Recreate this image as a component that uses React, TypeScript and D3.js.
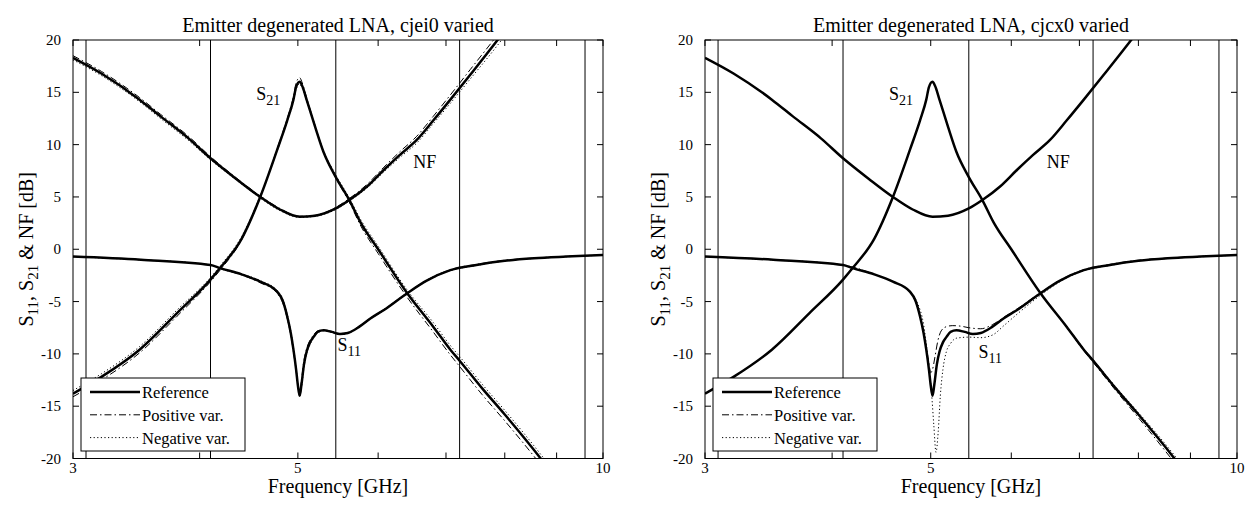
import React from 'react';
import * as d3 from 'd3';

// frequency axis
const X_TICKS = [3, 4, 5, 6, 7, 8, 9, 10];
const X_LABELS = [3, 5, 10];
const Y_TICKS = [-20, -15, -10, -5, 0, 5, 10, 15, 20];
// the thin vertical marker lines [GHz]
const BAND_F = [3.09, 4.1, 5.45, 7.22, 9.6];

// NF, reference design (shared by both plots)
const NF_F = [3.0, 3.2, 3.49, 3.66, 3.9, 4.1, 4.35, 4.59, 4.8, 5.02, 5.2, 5.45, 5.62, 5.85, 6.08, 6.3, 6.55, 6.8, 7.07, 7.4, 7.87, 8.2];
const NF_REF = [18.3, 16.8, 14.3, 12.7, 10.6, 8.7, 6.7, 5.0, 3.8, 3.1, 3.2, 3.9, 4.7, 6.0, 7.6, 9.0, 10.45, 12.3, 14.3, 16.7, 20.0, 22.3];
const NF_POS_L = [18.5, 17.0, 14.5, 12.9, 10.8, 8.85, 6.8, 5.1, 3.9, 3.15, 3.25, 4.0, 4.85, 6.2, 7.85, 9.3, 10.8, 12.7, 14.75, 17.2, 20.5, 22.8];
const NF_NEG_L = [18.1, 16.6, 14.1, 12.5, 10.4, 8.55, 6.6, 4.9, 3.7, 3.05, 3.15, 3.8, 4.6, 5.85, 7.4, 8.75, 10.15, 12.0, 13.95, 16.3, 19.5, 21.8];

// S21
const S21_F = [3.0, 3.2, 3.49, 3.8, 4.1, 4.19, 4.4, 4.59, 4.77, 4.88, 4.95, 4.98, 5.02, 5.05, 5.1, 5.2, 5.3, 5.45, 5.62, 5.77, 6.0, 6.41, 6.8, 7.07, 7.22, 7.6, 8.0, 8.68, 9.0];
const S21_REF = [-13.8, -12.2, -9.6, -6.1, -2.9, -1.8, 1.0, 5.0, 9.5, 12.3, 14.3, 15.5, 16.0, 15.6, 14.3, 11.7, 9.3, 6.9, 4.7, 2.5, 0.0, -4.2, -7.4, -9.6, -10.65, -13.3, -15.8, -20.0, -22.0];
const S21_POS_L = [-14.1, -12.5, -9.9, -6.4, -3.1, -2.0, 0.9, 5.0, 9.6, 12.5, 14.6, 15.9, 16.4, 15.9, 14.5, 11.8, 9.3, 6.8, 4.5, 2.2, -0.4, -4.6, -7.9, -10.1, -11.2, -13.9, -16.4, -20.6, -22.6];
const S21_NEG_L = [-13.5, -11.9, -9.3, -5.8, -2.7, -1.6, 1.2, 5.1, 9.4, 12.2, 14.1, 15.3, 15.8, 15.4, 14.2, 11.7, 9.4, 7.1, 4.9, 2.8, 0.3, -3.9, -7.0, -9.2, -10.25, -12.9, -15.4, -19.6, -21.6];
const S21_POS_R = [-13.8, -12.2, -9.6, -6.1, -2.9, -1.8, 1.0, 5.0, 9.5, 12.3, 14.3, 15.5, 16.0, 15.6, 14.3, 11.7, 9.3, 6.9, 4.7, 2.5, 0.0, -4.2, -7.45, -9.7, -10.8, -13.5, -16.1, -20.4, -22.4];
const S21_NEG_R = [-13.8, -12.2, -9.6, -6.1, -2.9, -1.8, 1.0, 5.0, 9.5, 12.3, 14.3, 15.5, 16.0, 15.6, 14.3, 11.7, 9.3, 6.9, 4.7, 2.5, 0.0, -4.2, -7.35, -9.5, -10.55, -13.15, -15.6, -19.7, -21.7];

// S11
const S11_F = [3.0, 3.5, 4.1, 4.19, 4.4, 4.59, 4.77, 4.83, 4.88, 4.92, 4.95, 4.98, 5.0, 5.02, 5.04, 5.07, 5.1, 5.14, 5.18, 5.23, 5.3, 5.4, 5.5, 5.6, 5.75, 5.9, 6.08, 6.41, 6.7, 7.07, 7.5, 8.0, 8.55, 9.2, 10.0];
const S11_REF = [-0.7, -1.0, -1.5, -1.8, -2.4, -3.1, -4.05, -4.9, -6.4, -8.0, -9.6, -11.5, -13.0, -14.0, -13.0, -11.0, -9.8, -8.9, -8.4, -7.9, -7.75, -7.9, -8.1, -8.0, -7.4, -6.6, -5.8, -4.2, -3.0, -2.0, -1.5, -1.1, -0.86, -0.7, -0.55];
const S11_POS_L = [-0.7, -1.0, -1.5, -1.85, -2.45, -3.2, -4.2, -5.1, -6.6, -8.2, -9.8, -11.6, -13.1, -13.8, -12.6, -10.6, -9.5, -8.7, -8.2, -7.8, -7.7, -7.85, -8.05, -7.95, -7.35, -6.55, -5.75, -4.15, -2.95, -1.95, -1.45, -1.05, -0.84, -0.68, -0.55];
const S11_NEG_L = [-0.72, -1.02, -1.5, -1.78, -2.35, -3.0, -3.95, -4.75, -6.2, -7.8, -9.4, -11.3, -12.9, -14.1, -13.3, -11.3, -10.0, -9.1, -8.5, -8.0, -7.8, -7.95, -8.15, -8.05, -7.45, -6.65, -5.85, -4.25, -3.05, -2.05, -1.55, -1.12, -0.88, -0.72, -0.56];

const S11_POS_R_F = [3.0, 3.5, 4.1, 4.4, 4.59, 4.77, 4.83, 4.88, 4.92, 4.95, 4.98, 5.0, 5.02, 5.05, 5.08, 5.12, 5.18, 5.25, 5.35, 5.45, 5.6, 5.75, 5.9, 6.08, 6.41, 6.7, 7.07, 7.5, 8.0, 8.55, 9.2, 10.0];
const S11_POS_R = [-0.7, -1.0, -1.5, -2.4, -3.1, -4.1, -5.0, -6.4, -7.9, -9.4, -10.9, -11.8, -11.5, -10.2, -8.8, -7.8, -7.4, -7.3, -7.35, -7.5, -7.6, -7.2, -6.5, -5.7, -4.15, -2.95, -1.95, -1.45, -1.05, -0.84, -0.68, -0.55];
const S11_NEG_R_F = [3.0, 3.5, 4.1, 4.4, 4.59, 4.77, 4.85, 4.92, 4.97, 5.01, 5.035, 5.06, 5.085, 5.11, 5.14, 5.18, 5.23, 5.3, 5.45, 5.6, 5.75, 5.9, 6.08, 6.41, 6.7, 7.07, 7.5, 8.0, 8.55, 9.2, 10.0];
const S11_NEG_R = [-0.72, -1.02, -1.52, -2.4, -3.1, -4.1, -5.1, -7.2, -10.5, -13.8, -16.8, -19.4, -17.5, -14.0, -11.5, -9.8, -9.0, -8.5, -8.4, -8.45, -8.2, -7.3, -6.2, -4.4, -3.1, -2.05, -1.55, -1.12, -0.88, -0.72, -0.56];

const LEGEND = ['Reference', 'Positive var.', 'Negative var.'];

const FONT = '"Liberation Serif", "Times New Roman", serif';
const TOP = 40;
const BOTTOM = 458.5;

const STYLE = {
  ref: { w: 2.5, dash: undefined },
  pos: { w: 1, dash: '7 3 1.5 3' },
  neg: { w: 1, dash: '1.2 2.4' },
};

const zip = (f: number[], v: number[]) => f.map((x, i) => [x, v[i]] as [number, number]);

const panels = [
  {
    id: 'l',
    title: 'Emitter degenerated LNA, cjei0 varied',
    left: 73,
    right: 603,
    curves: [
      { kind: 'ref', pts: zip(NF_F, NF_REF) },
      { kind: 'pos', pts: zip(NF_F, NF_POS_L) },
      { kind: 'neg', pts: zip(NF_F, NF_NEG_L) },
      { kind: 'ref', pts: zip(S21_F, S21_REF) },
      { kind: 'pos', pts: zip(S21_F, S21_POS_L) },
      { kind: 'neg', pts: zip(S21_F, S21_NEG_L) },
      { kind: 'ref', pts: zip(S11_F, S11_REF) },
      { kind: 'pos', pts: zip(S11_F, S11_POS_L) },
      { kind: 'neg', pts: zip(S11_F, S11_NEG_L) },
    ],
    labels: [
      { s: 'S', sub: '21', f: 4.55, db: 14.3 },
      { s: 'NF', sub: '', f: 6.5, db: 7.8 },
      { s: 'S', sub: '11', f: 5.47, db: -9.7 },
    ],
  },
  {
    id: 'r',
    title: 'Emitter degenerated LNA, cjcx0 varied',
    left: 705,
    right: 1237,
    curves: [
      { kind: 'ref', pts: zip(NF_F, NF_REF) },
      { kind: 'ref', pts: zip(S21_F, S21_REF) },
      { kind: 'pos', pts: zip(S21_F, S21_POS_R) },
      { kind: 'neg', pts: zip(S21_F, S21_NEG_R) },
      { kind: 'ref', pts: zip(S11_F, S11_REF) },
      { kind: 'pos', pts: zip(S11_POS_R_F, S11_POS_R) },
      { kind: 'neg', pts: zip(S11_NEG_R_F, S11_NEG_R) },
    ],
    labels: [
      { s: 'S', sub: '21', f: 4.55, db: 14.3 },
      { s: 'NF', sub: '', f: 6.5, db: 7.8 },
      { s: 'S', sub: '11', f: 5.57, db: -10.4 },
    ],
  },
];

function Panel({ p }: { p: any }) {
  const x = d3.scaleLog().domain([3, 10]).range([p.left, p.right]);
  const y = d3.scaleLinear().domain([-20, 20]).range([BOTTOM, TOP]);
  const line = d3
    .line<[number, number]>()
    .x(d => x(d[0]))
    .y(d => y(d[1]))
    .curve(d3.curveMonotoneX);
  const cx = (p.left + p.right) / 2;
  const tick = 6;

  return (
    <g>
      <defs>
        <clipPath id={`clip-${p.id}`}>
          <rect x={p.left} y={TOP} width={p.right - p.left} height={BOTTOM - TOP} />
        </clipPath>
      </defs>
      <rect x={p.left} y={TOP} width={p.right - p.left} height={BOTTOM - TOP} fill="#fff" />

      {/* curves */}
      <g clipPath={`url(#clip-${p.id})`} fill="none" stroke="#000">
        {p.curves.map((c: any, i: number) => (
          <path
            key={i}
            d={line(c.pts) || ''}
            strokeWidth={STYLE[c.kind as 'ref'].w}
            strokeDasharray={STYLE[c.kind as 'ref'].dash}
            strokeLinejoin="round"
          />
        ))}
      </g>

      {/* marker lines */}
      {BAND_F.map(f => (
        <line key={f} x1={x(f)} x2={x(f)} y1={TOP} y2={BOTTOM} stroke="#000" strokeWidth={1} />
      ))}

      {/* ticks */}
      {X_TICKS.map(t => (
        <g key={t} stroke="#000" strokeWidth={1}>
          <line x1={x(t)} x2={x(t)} y1={BOTTOM} y2={BOTTOM - tick} />
          <line x1={x(t)} x2={x(t)} y1={TOP} y2={TOP + tick} />
        </g>
      ))}
      {Y_TICKS.map(t => (
        <g key={t} stroke="#000" strokeWidth={1}>
          <line x1={p.left} x2={p.left + tick} y1={y(t)} y2={y(t)} />
          <line x1={p.right} x2={p.right - tick} y1={y(t)} y2={y(t)} />
        </g>
      ))}
      <rect x={p.left} y={TOP} width={p.right - p.left} height={BOTTOM - TOP} fill="none" stroke="#000" strokeWidth={1} />

      {/* tick labels */}
      {X_LABELS.map(t => (
        <text key={t} x={x(t)} y={BOTTOM + 14} fontSize={15} textAnchor="middle">
          {t}
        </text>
      ))}
      {Y_TICKS.map(t => (
        <text key={t} x={p.left - 12} y={y(t) + 5} fontSize={15} textAnchor="end">
          {t}
        </text>
      ))}

      {/* curve labels */}
      {p.labels.map((l: any, i: number) => (
        <text key={i} x={x(l.f)} y={y(l.db)} fontSize={18}>
          {l.s}
          {l.sub && (
            <tspan dy={5} fontSize={14}>
              {l.sub}
            </tspan>
          )}
        </text>
      ))}

      {/* legend */}
      <g>
        <rect x={p.left + 8} y={378} width={164} height={73} fill="#fff" stroke="#000" strokeWidth={1} />
        {LEGEND.map((name, i) => {
          const k = ['ref', 'pos', 'neg'][i] as 'ref';
          const ly = 392 + i * 22.8;
          return (
            <g key={name}>
              <line
                x1={p.left + 17}
                x2={p.left + 67}
                y1={ly}
                y2={ly}
                stroke="#000"
                strokeWidth={STYLE[k].w}
                strokeDasharray={STYLE[k].dash}
              />
              <text x={p.left + 69} y={ly + 6} fontSize={16.5}>
                {name}
              </text>
            </g>
          );
        })}
      </g>

      {/* titles */}
      <text x={cx} y={TOP - 8} fontSize={20} textAnchor="middle">
        {p.title}
      </text>
      <text x={cx} y={493} fontSize={20} textAnchor="middle">
        Frequency [GHz]
      </text>
      <text transform={`translate(${p.left - 40},${(TOP + BOTTOM) / 2}) rotate(-90)`} fontSize={20} textAnchor="middle">
        S<tspan dy={5} fontSize={15}>11</tspan>
        <tspan dy={-5}>, S</tspan>
        <tspan dy={5} fontSize={15}>21</tspan>
        <tspan dy={-5}> &amp; NF [dB]</tspan>
      </text>
    </g>
  );
}

export default function App() {
  return (
    <div style={{ position: 'absolute', left: 0, top: 0 }}>
      <svg width={1253} height={509} style={{ display: 'block', background: '#fff', fontFamily: FONT }}>
        {panels.map(p => (
          <Panel key={p.id} p={p} />
        ))}
      </svg>
    </div>
  );
}
